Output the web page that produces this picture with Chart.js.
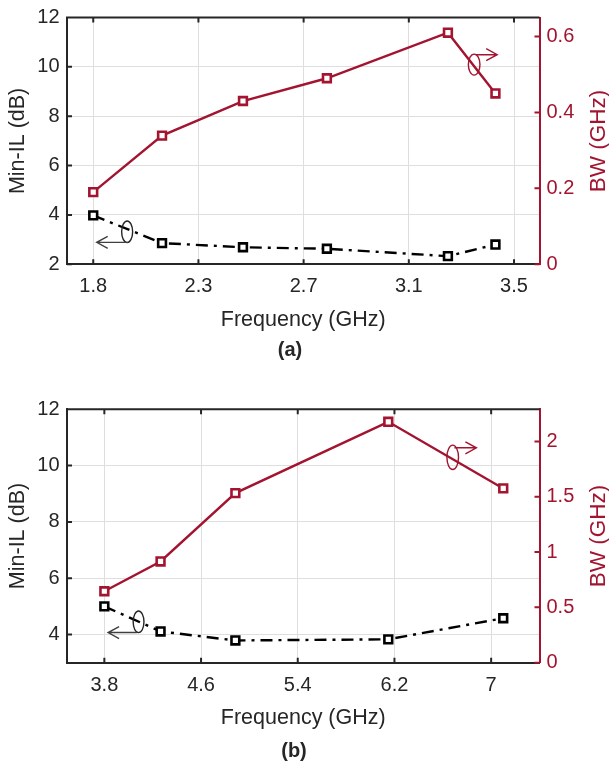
<!DOCTYPE html>
<html>
<head>
<meta charset="utf-8">
<script src="https://cdn.jsdelivr.net/npm/chart.js@4.4.1/dist/chart.umd.min.js"></script>
<style>
  body { margin: 0; background: #fff; }
  canvas { display: block; }
</style>
</head>
<body>
<canvas id="chartA" width="609" height="385"></canvas>
<canvas id="chartB" width="609" height="385"></canvas>
<script>
// (a)
var freqA = [1.8, 2.078, 2.405, 2.744, 3.233, 3.425];
var ilA = [3.98, 2.86, 2.69, 2.63, 2.33, 2.80];
var bwA = [0.19, 0.339, 0.43, 0.49, 0.61, 0.45];
var xTicksA = [1.8, 2.225, 2.65, 3.075, 3.5];
var xLabelsA = ['1.8', '2.3', '2.7', '3.1', '3.5'];
var ilTicksA = [2, 4, 6, 8, 10, 12];
var bwTicksA = [0, 0.2, 0.4, 0.6];

// (b)
var freqB = [3.8, 4.265, 4.884, 6.149, 7.1];
var ilB = [5.0, 4.11, 3.79, 3.83, 4.58];
var bwB = [0.646, 0.915, 1.533, 2.177, 1.575];
var xTicksB = [3.8, 4.6, 5.4, 6.2, 7];
var xLabelsB = ['3.8', '4.6', '5.4', '6.2', '7'];
var ilTicksB = [4, 6, 8, 10, 12];
var bwTicksB = [0, 0.5, 1, 1.5, 2];

var RED = '#A2142F';
var DARK = '#262626';
var GRID = '#dedede';

Chart.defaults.font.family = "'Liberation Sans', Arial, sans-serif";
Chart.defaults.color = DARK;

function seta(ctx, x1, y, x2) {
    var d = x2 > x1 ? 1 : -1;
    ctx.beginPath();
    ctx.moveTo(x1, y);
    ctx.lineTo(x2, y);
    ctx.moveTo(x2 - d * 11, y - 6);
    ctx.lineTo(x2, y);
    ctx.lineTo(x2 - d * 11, y + 6);
    ctx.stroke();
}

function molduraPlugin(cfg) {
    return {
        id: 'moldura',
        beforeDatasetsDraw: function (chart) {
            var ctx = chart.ctx, a = chart.chartArea, s = chart.scales;
            ctx.save();
            ctx.lineWidth = 2;
            ctx.strokeStyle = DARK;
            ctx.beginPath();
            ctx.moveTo(a.left - 1, a.top);
            ctx.lineTo(a.right, a.top);
            s.x.ticks.forEach(function (t) {
                var p = s.x.getPixelForValue(t.value);
                ctx.moveTo(p, a.bottom); ctx.lineTo(p, a.bottom - 5);
                ctx.moveTo(p, a.top); ctx.lineTo(p, a.top + 5);
            });
            s.il.ticks.forEach(function (t) {
                var p = s.il.getPixelForValue(t.value);
                ctx.moveTo(a.left, p); ctx.lineTo(a.left + 5, p);
            });
            ctx.stroke();
            ctx.strokeStyle = RED;
            ctx.beginPath();
            s.bw.ticks.forEach(function (t) {
                var p = s.bw.getPixelForValue(t.value);
                ctx.moveTo(a.right, p); ctx.lineTo(a.right - 5, p);
            });
            ctx.stroke();
            ctx.restore();
        },
        afterDatasetsDraw: function (chart) {
            var ctx = chart.ctx, s = chart.scales;
            ctx.save();
            ctx.lineWidth = 1.4;
            cfg.notes.forEach(function (n) {
                var cx = s.x.getPixelForValue(n.x), cy = s[n.axis].getPixelForValue(n.y);
                ctx.strokeStyle = n.color;
                ctx.beginPath();
                ctx.ellipse(cx, cy, n.rx, n.ry, 0, 0, Math.PI * 2);
                ctx.stroke();
                ctx.strokeStyle = n.arrowColor;
                seta(ctx, s.x.getPixelForValue(n.from), s[n.axis].getPixelForValue(n.ay), s.x.getPixelForValue(n.to));
            });
            ctx.restore();
        },
        afterDraw: function (chart) {
            var ctx = chart.ctx, a = chart.chartArea;
            ctx.save();
            ctx.fillStyle = RED;
            ctx.font = "22.5px 'Liberation Sans', Arial, sans-serif";
            ctx.textAlign = 'center';
            ctx.textBaseline = 'middle';
            ctx.translate(chart.width - 10, (a.top + a.bottom) / 2);
            ctx.rotate(-Math.PI / 2);
            ctx.fillText('BW (GHz)', 0, 0);
            ctx.restore();
            ctx.save();
            ctx.fillStyle = DARK;
            ctx.font = "bold 20px 'Liberation Sans', Arial, sans-serif";
            ctx.textAlign = 'center';
            ctx.textBaseline = 'middle';
            ctx.fillText(cfg.caption, cfg.capX, cfg.capY);
            ctx.restore();
        }
    };
}

function numero(v) {
    return String(Math.round(v * 100) / 100);
}

function criarGrafico(id, cfg) {
    var ctx = document.getElementById(id).getContext('2d');
    var pontos = function (xs, ys) { return xs.map(function (v, i) { return {x: v, y: ys[i]}; }); };
    return new Chart(ctx, {
        type: 'line',
        data: {
            datasets: [{
                label: 'Min-IL',
                data: pontos(cfg.freq, cfg.il),
                yAxisID: 'il',
                borderColor: '#000',
                borderWidth: 2.4,
                borderDash: [12, 6, 3, 6],
                pointStyle: 'rect',
                pointRadius: 5.5,
                pointBorderWidth: 2.6,
                pointBorderColor: '#000',
                pointBackgroundColor: '#fff',
                tension: 0
            }, {
                label: 'BW',
                data: pontos(cfg.freq, cfg.bw),
                yAxisID: 'bw',
                borderColor: RED,
                borderWidth: 2.4,
                pointStyle: 'rect',
                pointRadius: 5.5,
                pointBorderWidth: 2.6,
                pointBorderColor: RED,
                pointBackgroundColor: '#fff',
                tension: 0
            }]
        },
        options: {
            responsive: false,
            animation: false,
            layout: {padding: {left: 0, right: 0, top: cfg.top, bottom: cfg.bottom}},
            plugins: {legend: {display: false}, tooltip: {enabled: false}},
            scales: {
                x: {
                    type: 'linear',
                    min: cfg.xMin, max: cfg.xMax,
                    afterBuildTicks: function (sc) { sc.ticks = cfg.xTicks.map(function (v) { return {value: v}; }); },
                    afterFit: function (sc) { sc.height = cfg.xh; },
                    grid: {color: GRID, drawTicks: false},
                    border: {color: DARK, width: 2},
                    ticks: {
                        font: {size: 20, lineHeight: 1},
                        padding: cfg.tickPad,
                        maxRotation: 0,
                        callback: function (v, i) { return cfg.xLabels[i]; }
                    },
                    title: {display: true, text: 'Frequency (GHz)', font: {size: 21.5, lineHeight: 1}, padding: {top: 0, bottom: cfg.titlePad}}
                },
                il: {
                    type: 'linear', position: 'left',
                    min: cfg.ilMin, max: 12,
                    afterBuildTicks: function (sc) { sc.ticks = cfg.ilTicks.map(function (v) { return {value: v}; }); },
                    afterFit: function (sc) { sc.width = 67; },
                    grid: {color: GRID, drawTicks: false},
                    border: {color: DARK, width: 2},
                    ticks: {font: {size: 20, lineHeight: 1}, padding: 7.5, callback: numero},
                    title: {display: true, text: 'Min-IL (dB)', font: {size: 21.5, lineHeight: 1}, padding: {top: 7.5, bottom: 0}}
                },
                bw: {
                    type: 'linear', position: 'right',
                    min: 0, max: cfg.bwMax,
                    afterBuildTicks: function (sc) { sc.ticks = cfg.bwTicks.map(function (v) { return {value: v}; }); },
                    afterFit: function (sc) { sc.width = 69.5; },
                    grid: {drawOnChartArea: false, drawTicks: false},
                    border: {color: RED, width: 2},
                    ticks: {font: {size: 20, lineHeight: 1}, padding: 7, color: RED, callback: numero}
                }
            }
        },
        plugins: [molduraPlugin(cfg)]
    });
}

criarGrafico('chartA', {
    freq: freqA, il: ilA, bw: bwA,
    xTicks: xTicksA, xLabels: xLabelsA, ilTicks: ilTicksA, bwTicks: bwTicksA,
    xMin: 1.694, xMax: 3.603, ilMin: 2, bwMax: 0.65,
    top: 10, bottom: 47, xh: 73.7, tickPad: 12.5, titlePad: 7.5,
    caption: '(a)', capX: 290, capY: 350,
    notes: [
        {axis: 'il', x: 1.937, y: 3.317, rx: 5.5, ry: 10.8, color: DARK, from: 1.941, to: 1.814, ay: 2.889, arrowColor: '#404040'},
        {axis: 'bw', x: 3.339, y: 0.526, rx: 5.8, ry: 10.5, color: RED, from: 3.346, to: 3.432, ay: 0.552, arrowColor: RED}
    ]
});

criarGrafico('chartB', {
    freq: freqB, il: ilB, bw: bwB,
    xTicks: xTicksB, xLabels: xLabelsB, ilTicks: ilTicksB, bwTicks: bwTicksB,
    xMin: 3.491, xMax: 7.40, ilMin: 3, bwMax: 2.29,
    top: 24.3, bottom: 30.3, xh: 77, tickPad: 13, titlePad: 10.9,
    caption: '(b)', capX: 294, capY: 366.7,
    notes: [
        {axis: 'il', x: 4.083, y: 4.451, rx: 5.4, ry: 10.8, color: DARK, from: 4.07, to: 3.831, ay: 4.071, arrowColor: '#404040'},
        {axis: 'bw', x: 6.682, y: 1.856, rx: 5.8, ry: 12.2, color: RED, from: 6.696, to: 6.878, ay: 1.942, arrowColor: RED}
    ]
});
</script>
</body>
</html>
